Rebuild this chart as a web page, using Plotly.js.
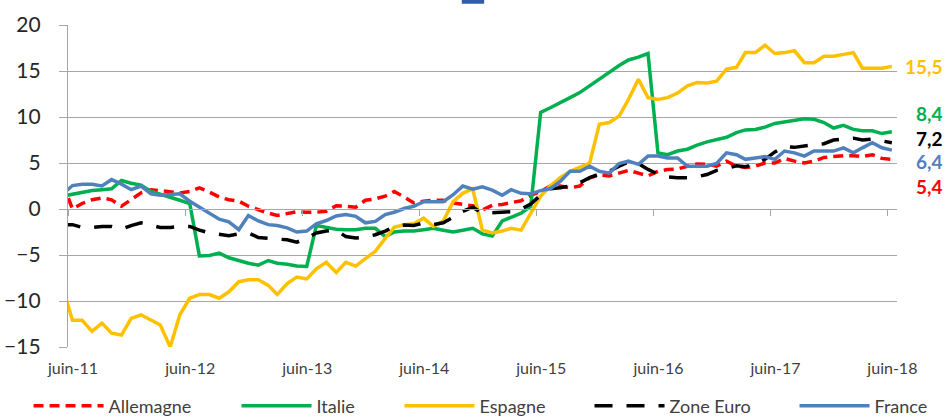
<!DOCTYPE html>
<html>
<head>
<meta charset="utf-8">
<script src="https://cdn.plot.ly/plotly-3.0.1.min.js"></script>
<style>
  html, body { margin: 0; padding: 0; background: #fff; }
  #chart { width: 946px; height: 416px; }
</style>
</head>
<body>
<div id="chart"></div>
<script>
// monthly values, mid-month, from mai-11 to juin-18
const firstMonth = '2011-05';
const nMonths = 86;

const allemagne = [
  2.8,
  0.0, 0.6, 1.0, 1.2, 1.0, 0.3, 1.0, 1.75, 2.1, 2.0, 1.9, 1.75,
  1.9, 2.3, 1.85, 1.3, 1.0, 0.85, 0.3, -0.1, -0.45, -0.7, -0.5, -0.3,
  -0.35, -0.35, -0.25, 0.35, 0.3, 0.2, 0.95, 1.1, 1.4, 1.9, 1.3, 0.65,
  0.85, 0.95, 0.95, 0.65, 0.5, 0.35, -0.1, 0.4, 0.5, 0.7, 0.9, 1.5,
  1.9, 2.5, 2.5, 2.3, 2.5, 3.4, 3.7, 3.6, 3.9, 4.2, 3.9, 3.6,
  4.1, 4.3, 4.35, 4.65, 4.9, 4.85, 4.65, 5.2, 4.65, 4.5, 4.65, 5.0,
  5.0, 5.5, 5.2, 5.0, 5.2, 5.6, 5.7, 5.8, 5.8, 5.7, 5.9, 5.5,
  5.4
];
const italie = [
  1.4,
  1.6, 1.85, 2.0, 2.1, 2.2, 3.1, 2.8, 2.6, 1.9, 1.6, 1.3, 0.95,
  0.6, -5.1, -5.05, -4.8, -5.3, -5.6, -5.9, -6.1, -5.6, -5.9, -6.0, -6.2,
  -6.25, -1.8, -2.0, -2.2, -2.25, -2.25, -2.1, -2.1, -3.0, -2.5, -2.4, -2.4,
  -2.25, -2.1, -2.3, -2.5, -2.3, -2.1, -2.7, -2.95, -1.3, -0.85, -0.45, 0.3,
  10.5, 11.0, 11.6, 12.1, 12.65, 13.4, 14.1, 14.9, 15.6, 16.2, 16.5, 16.9,
  6.1, 5.9, 6.3, 6.5, 6.95, 7.3, 7.5, 7.8, 8.3, 8.6, 8.65, 8.9,
  9.3, 9.45, 9.7, 9.8, 9.75, 9.4, 8.8, 9.1, 8.65, 8.5, 8.5, 8.2,
  8.4
];
const espagne = [
  -8.5,
  -12.1, -12.1, -13.3, -12.4, -13.5, -13.7, -11.9, -11.5, -12.1, -12.6, -15.0, -11.5,
  -9.7, -9.3, -9.3, -9.7, -9.0, -7.9, -7.7, -7.7, -8.3, -9.3, -8.1, -7.4,
  -7.6, -6.5, -5.8, -6.9, -5.8, -6.2, -5.4, -4.6, -3.2, -2.0, -1.7, -1.6,
  -1.0, -1.9, -1.3, 0.8, 1.7, 2.2, -2.3, -2.6, -2.4, -2.1, -2.3, -0.4,
  1.4, 2.5, 3.4, 4.1, 4.5, 5.0, 9.2, 9.4, 10.1, 11.9, 14.1, 12.1,
  11.9, 12.1, 12.6, 13.4, 13.75, 13.7, 13.9, 15.2, 15.4, 17.0, 17.0, 17.8,
  16.9, 17.0, 17.2, 15.9, 15.9, 16.6, 16.6, 16.8, 17.0, 15.3, 15.3, 15.3,
  15.5
];
const zoneEuro = [
  -1.7,
  -1.7, -2.0, -2.0, -1.9, -1.9, -2.2, -1.8, -1.5, -1.8, -2.0, -2.0, -1.9,
  -1.9, -2.3, -2.6, -2.8, -2.9, -2.7, -2.6, -3.1, -3.2, -3.2, -3.35, -3.6,
  -3.2, -2.6, -2.4, -2.3, -3.0, -3.15, -3.05, -2.8, -2.4, -1.9, -1.75, -1.8,
  -1.5, -1.7, -1.5, -0.9, -0.25, 0.2, -0.45, -0.4, -0.3, -0.3, 0.0, 0.55,
  1.5, 2.2, 2.3, 2.5, 2.85, 3.4, 3.8, 4.1, 4.65, 5.1, 4.95, 4.3,
  3.8, 3.5, 3.4, 3.4, 3.5, 3.75, 4.2, 4.4, 4.7, 4.6, 4.9, 5.4,
  6.2, 6.8, 6.7, 6.9, 7.0, 7.1, 7.5, 7.6, 7.7, 7.5, 7.6, 7.4,
  7.2
];
const france = [
  1.6,
  2.55, 2.7, 2.7, 2.5, 3.2, 2.7, 2.1, 2.5, 1.65, 1.5, 1.55, 1.65,
  0.85, 0.2, -0.5, -1.1, -1.4, -2.25, -0.7, -1.3, -1.7, -1.8, -2.05, -2.5,
  -2.4, -1.6, -1.25, -0.75, -0.6, -0.8, -1.5, -1.35, -0.6, -0.35, 0.05, 0.3,
  0.8, 0.8, 0.8, 1.55, 2.5, 2.15, 2.4, 2.05, 1.5, 2.1, 1.7, 1.65,
  2.0, 2.2, 3.0, 4.1, 4.1, 4.65, 4.1, 3.9, 4.95, 5.2, 4.85, 5.75,
  5.75, 5.55, 5.55, 4.65, 4.65, 4.65, 4.95, 6.1, 5.9, 5.4, 5.55, 5.7,
  5.4, 6.3, 6.1, 5.75, 6.3, 6.3, 6.3, 6.65, 6.1, 6.65, 7.2, 6.65,
  6.4
];

const tickDates = ['2011-06-01', '2012-06-01', '2013-06-01', '2014-06-01',
                   '2015-06-01', '2016-06-01', '2017-06-01', '2018-06-01'];
const tickLabels = ['juin-11', 'juin-12', 'juin-13', 'juin-14',
                    'juin-15', 'juin-16', 'juin-17', 'juin-18'];
const yTicks = [-15, -10, -5, 0, 5, 10, 15, 20];

// build the month dates (15th of each month)
function monthDates(start, n) {
  const parts = start.split('-');
  let y = parseInt(parts[0]);
  let m = parseInt(parts[1]);
  const out = [];
  for (let i = 0; i < n; i++) {
    out.push(y + '-' + String(m).padStart(2, '0') + '-15');
    m++;
    if (m > 12) { m = 1; y++; }
  }
  return out;
}
const dates = monthDates(firstMonth, nMonths);

const xRange = ['2011-06-01', '2018-07-01'];
const grid = '#a6a6a6';
const font = 'Lato, "Open Sans", sans-serif';

const series = [
  { name: 'Allemagne', y: allemagne, color: '#ff0000', dash: '10px,6px' },
  { name: 'Italie', y: italie, color: '#00b050', dash: 'solid' },
  { name: 'Espagne', y: espagne, color: '#ffc000', dash: 'solid' },
  { name: 'Zone Euro', y: zoneEuro, color: '#000000', dash: '18px,14px' },
  { name: 'France', y: france, color: '#4f81bd', dash: 'solid' }
];

// one legend per series so each entry sits where it does in the original
const legendX = [-0.0476, 0.2033, 0.3999, 0.6291, 0.8764];
const legendIds = ['legend', 'legend2', 'legend3', 'legend4', 'legend5'];

const traces = series.map((s, i) => ({
  x: dates,
  y: s.y,
  name: s.name,
  type: 'scatter',
  mode: 'lines',
  // last trace sits on the overlay axis that carries the zero-line ticks
  xaxis: i === series.length - 1 ? 'x2' : 'x',
  legend: legendIds[i],
  line: { color: s.color, width: 3.5, dash: s.dash },
  hoverinfo: 'x+y+name'
}));

// end-of-series value labels, stacked at the right
const labelY = [0.870, 0.724, 0.649, 0.575, 0.500];
const labelOrder = [2, 1, 3, 4, 0];
const annotations = labelOrder.map((k, i) => {
  const s = series[k];
  const last = s.y[s.y.length - 1];
  return {
    xref: 'paper', yref: 'paper',
    x: 1.058, y: labelY[i],
    xanchor: 'right', yanchor: 'middle',
    text: '<b>' + last.toFixed(1).replace('.', ',') + '</b>',
    showarrow: false,
    font: { family: font, size: 19, color: s.color }
  };
});

const layout = {
  width: 946,
  height: 416,
  margin: { l: 68, r: 49, t: 25, b: 69, autoexpand: false },
  paper_bgcolor: '#ffffff',
  plot_bgcolor: '#ffffff',
  font: { family: font, color: '#404040' },
  showlegend: true,
  xaxis: {
    type: 'date',
    range: xRange,
    tickvals: tickDates,
    ticktext: tickLabels,
    ticks: '',
    showgrid: false,
    showline: false,
    zeroline: false,
    ticklabelshift: 5,
    ticklabelstandoff: 10,
    tickfont: { family: font, size: 16, color: '#404040' }
  },
  xaxis2: {
    type: 'date',
    overlaying: 'x',
    anchor: 'free',
    position: 15 / 35,
    range: xRange,
    tickvals: tickDates,
    showticklabels: false,
    ticks: 'outside',
    ticklen: 6,
    tickwidth: 1.3,
    tickcolor: grid,
    showline: true,
    linecolor: grid,
    linewidth: 1.3,
    showgrid: false,
    zeroline: false
  },
  yaxis: {
    range: [-15, 20],
    tickvals: yTicks,
    showgrid: true,
    gridcolor: grid,
    gridwidth: 1.3,
    zeroline: false,
    showline: true,
    linecolor: grid,
    linewidth: 1.3,
    ticks: 'outside',
    ticklen: 8,
    tickwidth: 1.3,
    tickcolor: grid,
    ticklabelstandoff: 14,
    tickfont: { family: font, size: 21, color: '#262626' }
  },
  annotations: annotations,
  shapes: [{
    type: 'rect', xref: 'paper', yref: 'paper',
    x0: 0.475, x1: 0.502, y0: 1.066, y1: 1.08,
    fillcolor: '#2f5ea8', line: { width: 0 }
  }]
};

legendIds.forEach((id, i) => {
  layout[id] = {
    orientation: 'h',
    x: legendX[i], xanchor: 'left',
    y: -0.183, yanchor: 'middle',
    font: { family: font, size: 18, color: '#404040' },
    itemwidth: 70,
    bgcolor: 'rgba(0,0,0,0)'
  };
});

Plotly.newPlot('chart', traces, layout, { displayModeBar: false, responsive: false });
</script>
</body>
</html>
